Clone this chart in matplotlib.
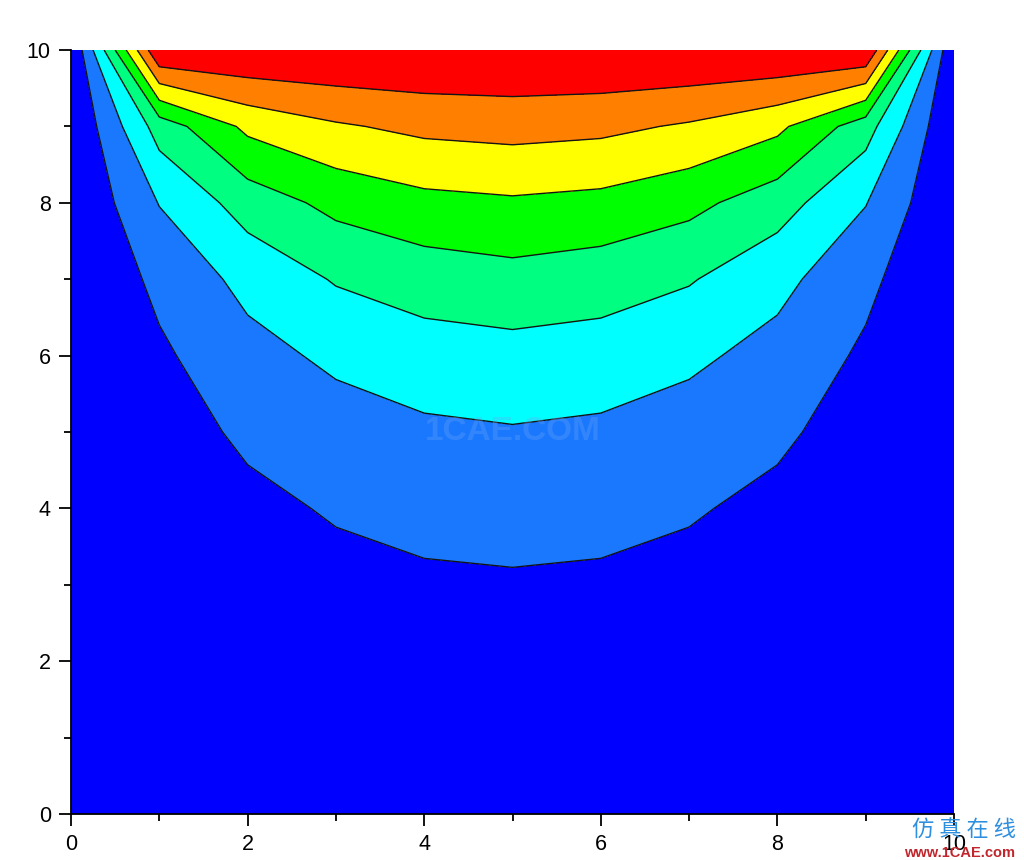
import matplotlib
matplotlib.use('Agg')
import matplotlib.pyplot as plt
from matplotlib.ticker import MultipleLocator

plt.rcParams['font.family'] = ['Liberation Sans', 'DejaVu Sans']

# Grid coordinates
x_values = [0, 1, 2, 3, 4, 5, 6, 7, 8, 9, 10]
y_values = [0, 1, 2, 3, 4, 5, 6, 7, 8, 9, 10]

# Temperature on the grid (rows = y, columns = x)
temperature = [
    [0, 0.000, 0.000, 0.000, 0.000, 0.000, 0.000, 0.000, 0.000, 0.000, 0],
    [0, 0.010, 0.019, 0.026, 0.031, 0.033, 0.031, 0.026, 0.019, 0.010, 0],
    [0, 0.020, 0.040, 0.055, 0.066, 0.069, 0.066, 0.055, 0.040, 0.020, 0],
    [0, 0.033, 0.065, 0.091, 0.107, 0.112, 0.107, 0.091, 0.065, 0.033, 0],
    [0, 0.049, 0.097, 0.136, 0.159, 0.169, 0.159, 0.136, 0.097, 0.049, 0],
    [0, 0.072, 0.146, 0.195, 0.227, 0.241, 0.227, 0.195, 0.146, 0.072, 0],
    [0, 0.105, 0.208, 0.275, 0.320, 0.332, 0.320, 0.275, 0.208, 0.105, 0],
    [0, 0.155, 0.287, 0.385, 0.432, 0.458, 0.432, 0.385, 0.287, 0.155, 0],
    [0, 0.255, 0.431, 0.535, 0.590, 0.608, 0.590, 0.535, 0.431, 0.255, 0],
    [0, 0.430, 0.654, 0.735, 0.780, 0.795, 0.780, 0.735, 0.654, 0.430, 0],
    [0, 1.000, 1.000, 1.000, 1.000, 1.000, 1.000, 1.000, 1.000, 1.000, 0],
]

levels = [0, 0.125, 0.25, 0.375, 0.5, 0.625, 0.75, 0.875, 1.0]
band_colors = ['#0000FF', '#1A78FF', '#00FFFF', '#00FF80',
               '#00FF00', '#FFFF00', '#FF8000', '#FF0000']

tick_values = [0, 2, 4, 6, 8, 10]

fig = plt.figure(figsize=(10.24, 8.6), dpi=100)
ax = fig.add_axes([71 / 1024, 1 - 814 / 860, (954 - 71) / 1024, (814 - 50) / 860])

ax.contourf(x_values, y_values, temperature, levels=levels, colors=band_colors)
ax.contour(x_values, y_values, temperature, levels=levels[1:-1],
           colors='#141414', linewidths=1.0)

ax.set_xlim(0, 10)
ax.set_ylim(0, 10)
ax.set_xticks(tick_values)
ax.set_yticks(tick_values)
ax.set_xticklabels([str(t) for t in tick_values])
ax.set_yticklabels([str(t) for t in tick_values])
ax.xaxis.set_minor_locator(MultipleLocator(1))
ax.yaxis.set_minor_locator(MultipleLocator(1))
ax.tick_params(which='major', direction='out', length=8.5, width=1.3,
               labelsize=15.5, pad=6)
ax.tick_params(which='minor', direction='out', length=5, width=1.3)

ax.spines['top'].set_visible(False)
ax.spines['right'].set_visible(False)
ax.spines['left'].set_linewidth(1.3)
ax.spines['bottom'].set_linewidth(1.3)

# Watermark in the middle of the plot
ax.text(5, 5.0, '1CAE.COM', fontsize=24, fontweight='bold', color='#6fa6f2',
        alpha=0.3, ha='center', va='center')

# Logo in the lower right corner (it sits over the last tick label, as in the source)
fig.text(964 / 1024, 1 - 830 / 860, '仿 真 在 线', fontsize=16, color='#2f8fdf',
         ha='center', va='center', family=['Noto Sans CJK SC', 'DejaVu Sans'])
fig.text(960 / 1024, 1 - 853 / 860, 'www.1CAE.com', fontsize=10.5,
         fontweight='bold', color='#c0262c', ha='center', va='center')

fig.savefig('out.png', dpi=100)
plt.close(fig)
